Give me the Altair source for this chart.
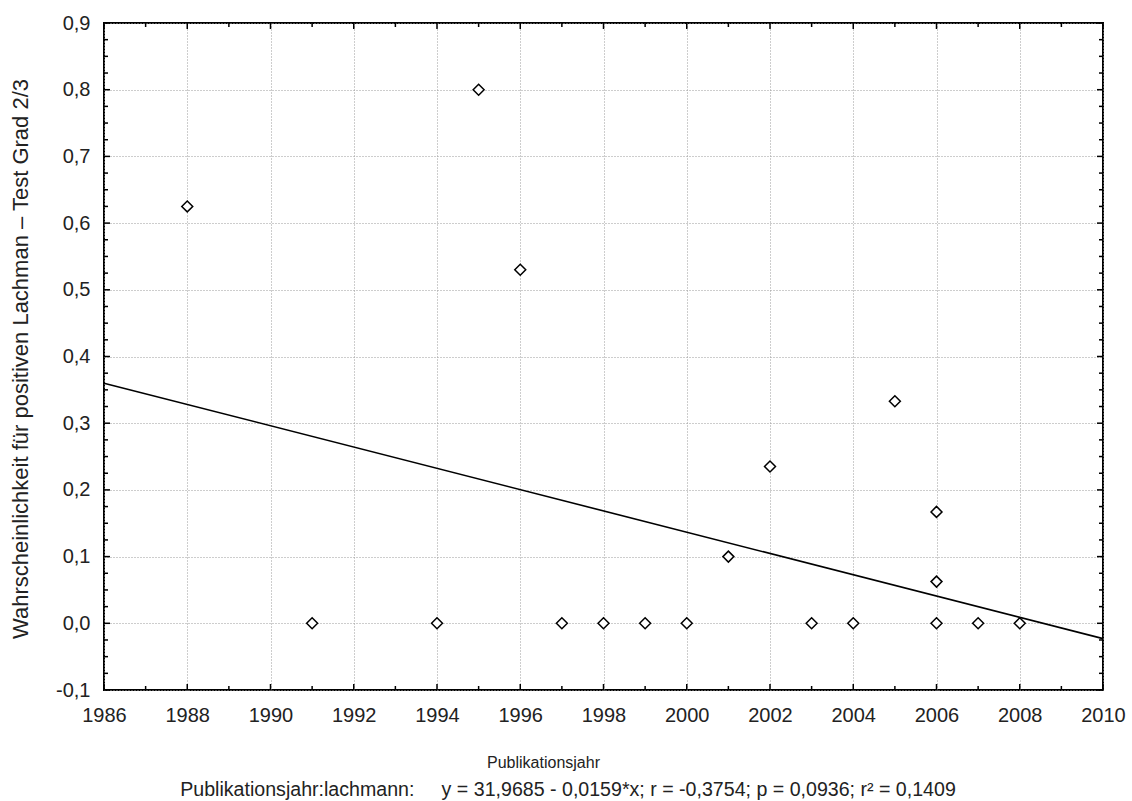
import altair as alt
import pandas as pd

# Data
years = [1988, 1991, 1994, 1995, 1996, 1997, 1998, 1999, 2000, 2001, 2002, 2003, 2004, 2005, 2006, 2006, 2006, 2007, 2008]
probs = [0.625, 0.0, 0.0, 0.80, 0.53, 0.0, 0.0, 0.0, 0.0, 0.10, 0.235, 0.0, 0.0, 0.333, 0.167, 0.0625, 0.0, 0.0, 0.0]

fit_x = [1986, 2010]
fit_y = [0.36, -0.023]

x_major = list(range(1986, 2011, 2))
x_minor = list(range(1987, 2010, 2))
y_major = [round(-0.1 + 0.1 * i, 3) for i in range(11)]
y_minor = [round(-0.1 + 0.025 * i, 4) for i in range(41) if i % 4 != 0]

footnote = "Publikationsjahr:lachmann:\u00a0\u00a0\u00a0\u00a0\u00a0y = 31,9685 - 0,0159*x; r = -0,3754; p = 0,0936; r² = 0,1409"

W, H = 999, 667
FONT = "Liberation Sans"
TXT = "#222222"

xs = alt.Scale(domain=[1986, 2010], nice=False, zero=False)
ys = alt.Scale(domain=[-0.1, 0.9], nice=False, zero=False)

pts = pd.DataFrame({"year": years, "p": probs})
fit = pd.DataFrame({"year": fit_x, "p": fit_y})

xaxis = alt.Axis(values=x_major, labelExpr="format(datum.value, 'd')", grid=True, labelFlush=False,
                 gridDash=[1, 2], gridColor="#9a9a9a", gridWidth=1, tickSize=0, domain=False,
                 labelFont=FONT, labelFontSize=20, labelColor=TXT, labelPadding=15,
                 title="Publikationsjahr", titleFont=FONT, titleFontSize=16, titleFontWeight="normal",
                 titleColor=TXT, titleX=439, titleY=77, titleAlign="center", titleBaseline="alphabetic")
yaxis = alt.Axis(values=y_major, labelFlush=False,
                 labelExpr="replace(replace(format(datum.value, '.1f'), '.', ','), '\u2212', '-')",
                 grid=True, gridDash=[1, 2], gridColor="#9a9a9a", gridWidth=1, tickSize=0, domain=False,
                 labelFont=FONT, labelFontSize=20, labelColor=TXT, labelPadding=14,
                 title="Wahrscheinlichkeit für positiven Lachman – Test Grad 2/3", titleFont=FONT,
                 titleFontSize=22, titleFontWeight="normal", titleColor=TXT,
                 titleX=-84, titleY=H / 2 + 2, titleAlign="center", titleBaseline="middle", titleAngle=-90)

base_pts = alt.Chart(pts).mark_point(shape="diamond", size=120, filled=True, fill="white",
                                     stroke="black", strokeWidth=1.5, opacity=1).encode(
    x=alt.X("year:Q", scale=xs, axis=xaxis),
    y=alt.Y("p:Q", scale=ys, axis=yaxis),
)

line = alt.Chart(fit).mark_line(color="black", strokeWidth=1.6).encode(
    x=alt.X("year:Q", scale=xs), y=alt.Y("p:Q", scale=ys))


def xticks(vals, length):
    df = pd.DataFrame({"v": vals})
    bot = alt.Chart(df).mark_rule(color="black", strokeWidth=1.5).encode(
        x=alt.X("v:Q", scale=xs), y=alt.value(H), y2=alt.value(H - length))
    top = alt.Chart(df).mark_rule(color="black", strokeWidth=1.5).encode(
        x=alt.X("v:Q", scale=xs), y=alt.value(0), y2=alt.value(length))
    return [bot, top]


def yticks(vals, length):
    df = pd.DataFrame({"v": vals})
    left = alt.Chart(df).mark_rule(color="black", strokeWidth=1.5).encode(
        y=alt.Y("v:Q", scale=ys), x=alt.value(0), x2=alt.value(length))
    right = alt.Chart(df).mark_rule(color="black", strokeWidth=1.5).encode(
        y=alt.Y("v:Q", scale=ys), x=alt.value(W), x2=alt.value(W - length))
    return [left, right]


note = alt.Chart(pd.DataFrame({"t": [footnote]})).mark_text(
    font=FONT, fontSize=19.6, color=TXT, align="center", baseline="alphabetic").encode(
    text="t:N", x=alt.value(568 - 104), y=alt.value(796 - 23))

layers = [base_pts.mark_point(opacity=0), line] + xticks(x_major, 6) + xticks(x_minor, 4) \
    + yticks(y_major, 6) + yticks(y_minor, 4) + [base_pts, note]

chart = alt.layer(*layers).properties(
    width=W, height=H,
    autosize=alt.AutoSizeParams(type="none"),
    padding={"left": 104, "top": 23, "right": 29, "bottom": 111},
    background="white",
).configure_view(stroke="black", strokeWidth=2).resolve_scale(x="shared", y="shared")

chart.save("out.html", embed_options={"renderer": "svg", "actions": False})
